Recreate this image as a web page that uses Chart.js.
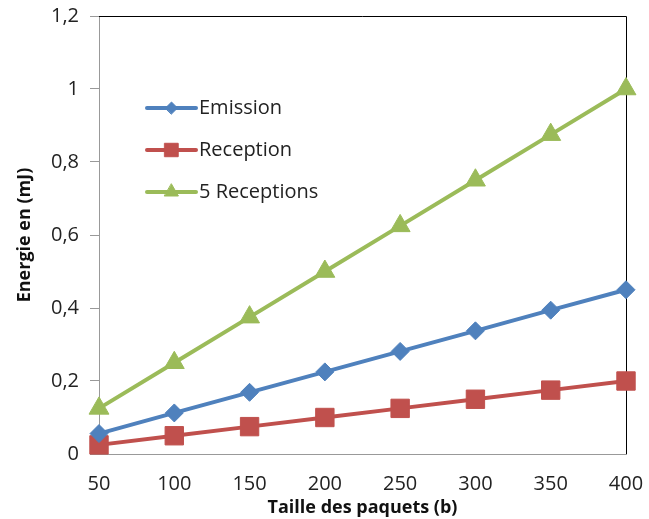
<!DOCTYPE html>
<html>
<head>
<meta charset="utf-8">
<script src="https://cdn.jsdelivr.net/npm/chart.js@4.4.1/dist/chart.umd.min.js"></script>
<style>
  html, body { margin: 0; padding: 0; background: #fff; }
  #wrap { width: 649px; height: 519px; position: relative; }
</style>
</head>
<body>
<div id="wrap"><canvas id="c" width="649" height="519"></canvas></div>
<script>
const categories = ['50', '100', '150', '200', '250', '300', '350', '400'];
const emission = [0.056, 0.1125, 0.169, 0.225, 0.281, 0.3375, 0.394, 0.45];
const reception = [0.025, 0.05, 0.075, 0.1, 0.125, 0.15, 0.175, 0.2];
const cinqReceptions = [0.125, 0.25, 0.375, 0.5, 0.625, 0.75, 0.875, 1.0];
const seriesNames = ['Emission', 'Reception', '5 Receptions'];
const yTicks = [0, 0.2, 0.4, 0.6, 0.8, 1.0, 1.2];
const xTitle = 'Taille des paquets (b)';
const yTitle = 'Energie en (mJ)';

const FONT = "'Open Sans', 'Liberation Sans', sans-serif";

const insideLegend = {
  id: 'insideLegend',
  afterDraw(chart) {
    const ctx = chart.ctx;
    const x0 = 147, x1 = 196, tx = 199;
    const ys = [108, 150, 192];
    const radii = [6, 9.5, 8];
    chart.data.datasets.forEach((ds, i) => {
      const y = ys[i];
      ctx.save();
      ctx.strokeStyle = ds.borderColor;
      ctx.lineWidth = 4;
      ctx.lineCap = 'round';
      ctx.beginPath();
      ctx.moveTo(x0, y);
      ctx.lineTo(x1, y);
      ctx.stroke();
      ctx.fillStyle = ds.pointBackgroundColor;
      ctx.strokeStyle = ds.pointBorderColor;
      ctx.lineWidth = 1;
      Chart.helpers.drawPoint(ctx, { pointStyle: ds.pointStyle, rotation: 0, radius: radii[i], borderWidth: 1 }, (x0 + x1) / 2, y);
      ctx.fillStyle = '#222';
      ctx.font = "20px " + FONT;
      ctx.textBaseline = 'middle';
      ctx.textAlign = 'left';
      ctx.fillText(ds.label, tx, y);
      ctx.restore();
    });
  }
};

const frame = {
  id: 'frame',
  beforeDatasetsDraw(chart) {
    const a = chart.chartArea;
    const ctx = chart.ctx;
    ctx.save();
    ctx.strokeStyle = '#000';
    ctx.lineWidth = 1;
    ctx.beginPath();
    ctx.moveTo(a.left, a.top + 0.5);
    ctx.lineTo(a.right + 0.5, a.top + 0.5);
    ctx.lineTo(a.right + 0.5, a.bottom);
    ctx.stroke();
    ctx.restore();
  }
};

const colors = ['#4F81BD', '#C0504D', '#9BBB59'];
const styles = ['rectRot', 'rect', 'triangle'];
const radii = [9, 13, 11.5];
const values = [emission, reception, cinqReceptions];

new Chart(document.getElementById('c'), {
  type: 'line',
  data: {
    labels: categories,
    datasets: values.map((v, i) => ({
      label: seriesNames[i],
      data: v,
      borderColor: colors[i],
      backgroundColor: colors[i],
      pointBackgroundColor: colors[i],
      pointBorderColor: colors[i],
      pointStyle: styles[i],
      pointRadius: radii[i],
      pointBorderWidth: 1,
      borderWidth: 4,
      tension: 0,
      clip: false
    }))
  },
  options: {
    responsive: false,
    animation: false,
    layout: { padding: { top: 16, right: 23, left: 0, bottom: 0 } },
    plugins: { legend: { display: false }, tooltip: { enabled: false } },
    scales: {
      x: {
        offset: false,
        grid: { display: false, drawTicks: false },
        border: { display: true, color: '#999', width: 1 },
        ticks: { color: '#222', font: { size: 20, family: FONT }, padding: 18, maxRotation: 0, autoSkip: false },
        title: { display: true, text: xTitle, color: '#111', font: { size: 18, weight: 'bold', family: FONT }, padding: { top: 0, bottom: 0 } },
        afterFit(scale) { scale.height = 65; scale.paddingLeft = 0; scale.paddingRight = 0; }
      },
      y: {
        min: 0, max: 1.2,
        afterBuildTicks(scale) { scale.ticks = yTicks.map(v => ({ value: v })); },
        grid: { drawOnChartArea: false, drawTicks: true, tickLength: 9, color: '#999' },
        border: { display: true, color: '#999', width: 1 },
        ticks: {
          color: '#222', font: { size: 20, family: FONT }, padding: 11,
          callback: v => String(+v.toFixed(1)).replace('.', ',')
        },
        title: { display: true, text: yTitle, color: '#111', font: { size: 18, weight: 'bold', family: FONT }, padding: { top: 14, bottom: 0 } },
        afterFit(scale) { scale.width = 99; scale.paddingTop = 0; scale.paddingBottom = 0; }
      }
    }
  },
  plugins: [frame, insideLegend]
});
</script>
</body>
</html>
